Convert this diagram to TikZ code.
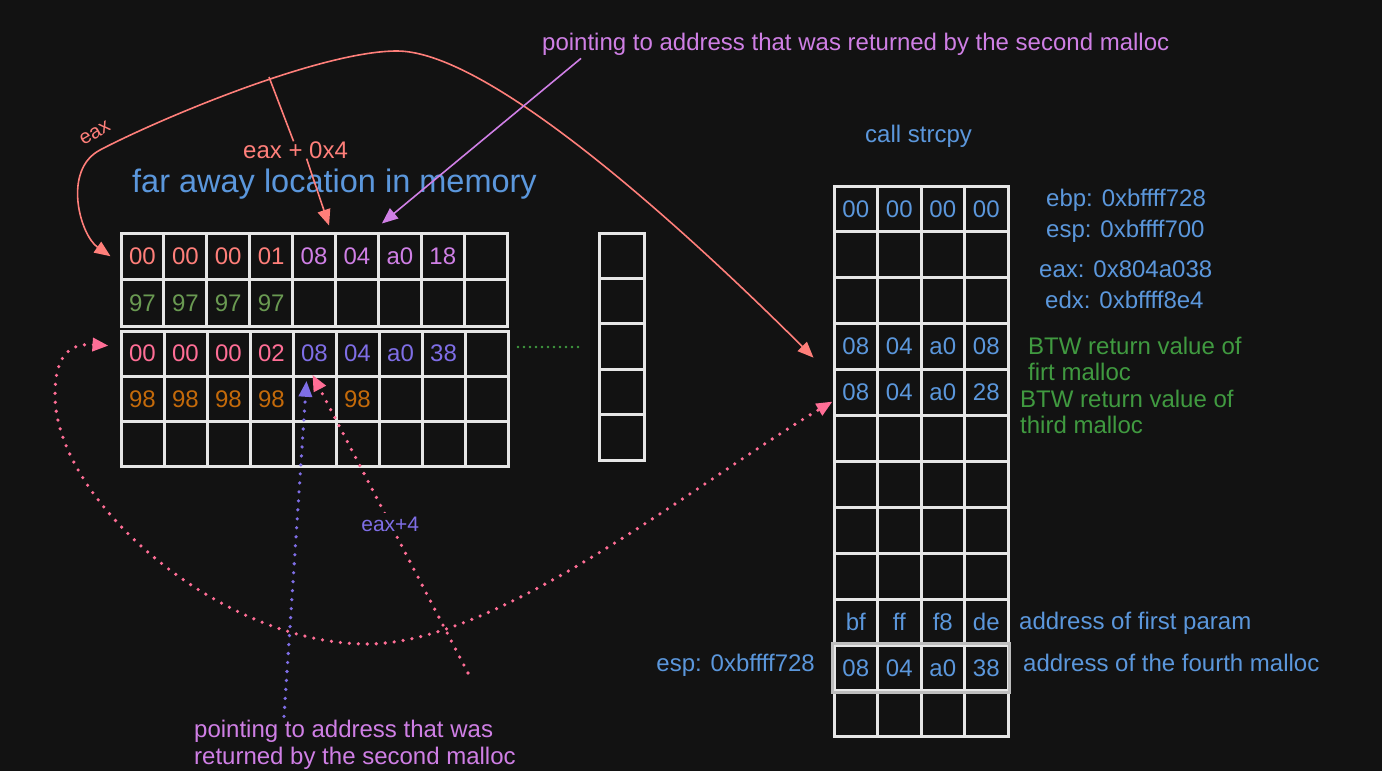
\documentclass[tikz,border=0pt]{standalone}
\usepackage{fontspec}
\setmainfont{Liberation Sans}
\usetikzlibrary{arrows.meta,positioning}

\definecolor{bg}{HTML}{121212}
\definecolor{gridc}{HTML}{E6E6E6}
\definecolor{rowgray}{HTML}{BDBDBD}
\definecolor{salmon}{HTML}{FF7F7A}
\definecolor{orchid}{HTML}{CF7FE5}
\definecolor{skyblue}{HTML}{5B97DC}
\definecolor{moss}{HTML}{409A40}
\definecolor{olivec}{HTML}{6A9A52}
\definecolor{pinkc}{HTML}{FF6E96}
\definecolor{violetc}{HTML}{7F6EE6}
\definecolor{amber}{HTML}{C46A0A}

\newcommand\numfont{\fontsize{24}{28}\selectfont}
\newcommand\lblfont{\fontsize{24}{26.5}\selectfont}
\newcommand\bigfont{\fontsize{32.5}{38}\selectfont}

\tikzset{
  cell/.style={draw=gridc, line width=3pt, inner sep=0pt},
  num/.style={inner sep=0pt, font=\numfont},
  lbl/.style={inner sep=0pt, anchor=west, font=\lblfont},
  dotline/.style={line width=3.6pt, line cap=round, dash pattern=on 0pt off 9pt},
  thinarrow/.style={line width=1.6pt}
}

\begin{document}
\begin{tikzpicture}[x=1pt,y=-1pt,>={Triangle[length=16pt,width=13pt]}]
\fill[bg] (0,0) rectangle (1382,771);

% heap, upper block
\foreach \r in {1,2}
  \foreach \c in {1,...,9}
    \node[cell, minimum width=42.9pt, minimum height=46.5pt] (a-\r-\c) at ({121+(\c-0.5)*42.9},{233+(\r-0.5)*46.5}) {};

% heap, lower block
\foreach \r in {1,2,3}
  \foreach \c in {1,...,9}
    \node[cell, minimum width=43pt, minimum height=45.3pt] (b-\r-\c) at ({121+(\c-0.5)*43},{331+(\r-0.5)*45.3}) {};

% far column
\foreach \r in {1,...,5}
  \node[cell, minimum width=45pt, minimum height=45.4pt] (col-\r) at (621.5,{233+(\r-0.5)*45.4}) {};

% stack
\foreach \r in {1,...,12}
  \foreach \c in {1,...,4}
    \node[cell, minimum width=43.5pt, minimum height=45.9pt] (s-\r-\c) at ({834+(\c-0.5)*43.5},{186+(\r-0.5)*45.9}) {};
\draw[rowgray, line width=3pt] (s-11-1.north west) rectangle (s-11-4.south east);

% values in the heap
\foreach \c/\v in {1/00,2/00,3/00,4/01}
  \node[num, text=salmon] (va-\c) at (a-1-\c) {\v};
\foreach \c/\v in {5/08,6/04,7/a0,8/18}
  \node[num, text=orchid] (va-\c) at (a-1-\c) {\v};
\foreach \c in {1,...,4}
  \node[num, text=olivec] (vb-\c) at (a-2-\c) {97};
\foreach \c/\v in {1/00,2/00,3/00,4/02}
  \node[num, text=pinkc] (vc-\c) at (b-1-\c) {\v};
\foreach \c/\v in {5/08,6/04,7/a0,8/38}
  \node[num, text=violetc] (vc-\c) at (b-1-\c) {\v};
\foreach \c in {1,2,3,4,6}
  \node[num, text=amber] (vd-\c) at (b-2-\c) {98};

% values on the stack
\foreach \c in {1,...,4}
  \node[num, text=skyblue] (vs1-\c) at (s-1-\c) {00};
\foreach \c/\v in {1/08,2/04,3/a0,4/08}
  \node[num, text=skyblue] (vs4-\c) at (s-4-\c) {\v};
\foreach \c/\v in {1/08,2/04,3/a0,4/28}
  \node[num, text=skyblue] (vs5-\c) at (s-5-\c) {\v};
\foreach \c/\v in {1/bf,2/ff,3/f8,4/de}
  \node[num, text=skyblue] (vs10-\c) at (s-10-\c) {\v};
\foreach \c/\v in {1/08,2/04,3/a0,4/38}
  \node[num, text=skyblue] (vs11-\c) at (s-11-\c) {\v};

% labels
\node[lbl, font=\bigfont, text=skyblue] (faraway) at (132,184) {far away location in memory};
\node[lbl, text=skyblue] (callcpy) at (865,136) {call strcpy};
\node[lbl, text=orchid] (toplbl) at (542,44) {pointing to address that was returned by the second malloc};
\node[lbl, text=skyblue] (ebp) at (1046,200) {ebp: 0xbffff728};
\node[lbl, text=skyblue] (esp) at (1046,231) {esp: 0xbffff700};
\node[lbl, text=skyblue] (eaxv) at (1039,269) {eax: 0x804a038};
\node[lbl, text=skyblue] (edx) at (1045,300) {edx: 0xbffff8e4};
\node[lbl, text=moss, align=left] (btw1) at (1028,359) {BTW return value of\\firt malloc};
\node[lbl, text=moss, align=left] (btw2) at (1020,412) {BTW return value of\\third malloc};
\node[lbl, text=skyblue] (param) at (1019,623) {address of first param};
\node[lbl, text=skyblue] (fourth) at (1023,663) {address of the fourth malloc};
\node[lbl, anchor=east, text=skyblue] (espnow) at (815,665) {esp: 0xbffff728};
\node[lbl, text=orchid, align=left] (botlbl) at (194,745) {pointing to address that was\\returned by the second malloc};
\node[lbl, text=salmon] (eaxoff) at (243,150) {eax + 0x4};
\node[inner sep=0pt, font=\fontsize{20}{24}\selectfont, text=salmon, rotate=30] (eaxlbl) at (95,133) {eax};

% eax: from the stack to the heap
\coordinate (eaxbrk) at (269,77);
\draw[salmon, thinarrow, <->] ([xshift=-9pt]a-1-1.west) .. controls (80,235) and (62,170) .. (100,150)
  .. controls (157,120) and (320,51) .. (397,51)
  .. controls (480,51) and (650,195) .. ([xshift=-19pt,yshift=-11pt]s-4-1.west);
\draw[salmon, thinarrow] (eaxbrk) -- ([xshift=-2pt]eaxoff.north);
\draw[salmon, thinarrow, ->] ([xshift=11pt]eaxoff.south) -- ([xshift=15pt,yshift=6pt]a-1-5.north);

% second malloc pointer
\draw[orchid, thinarrow, ->] ([xshift=39pt,yshift=-3pt]toplbl.south west) -- ([xshift=2pt,yshift=8pt]a-1-6.north east);

% dotted links
\draw[pinkc, dotline, <->] ([xshift=-11pt,yshift=8pt]b-1-1.west) .. controls (70,343) and (55,355) .. (55,395)
  .. controls (55,500) and (220,644) .. (367,644)
  .. controls (500,644) and (700,480) .. ([yshift=-9pt]s-5-1.west);
\draw[violetc, dotline, ->] ([xshift=90pt,yshift=4pt]botlbl.north west) -- ([xshift=-8pt,yshift=-6pt]b-2-5.north);
\coordinate (ptrend) at (468,673);
\draw[pinkc, dotline, ->] (ptrend) -- node[fill=bg, inner sep=4pt, text=violetc, font=\fontsize{21}{24}\selectfont] (eaxfour) {eax+4} ([xshift=-2pt]b-2-5.north);

\coordinate (dotsL) at (518,347);
\coordinate (dotsR) at (579,347);
\draw[moss, line width=2.6pt, line cap=round, dash pattern=on 0pt off 6pt] (dotsL) -- (dotsR);
\end{tikzpicture}
\end{document}
